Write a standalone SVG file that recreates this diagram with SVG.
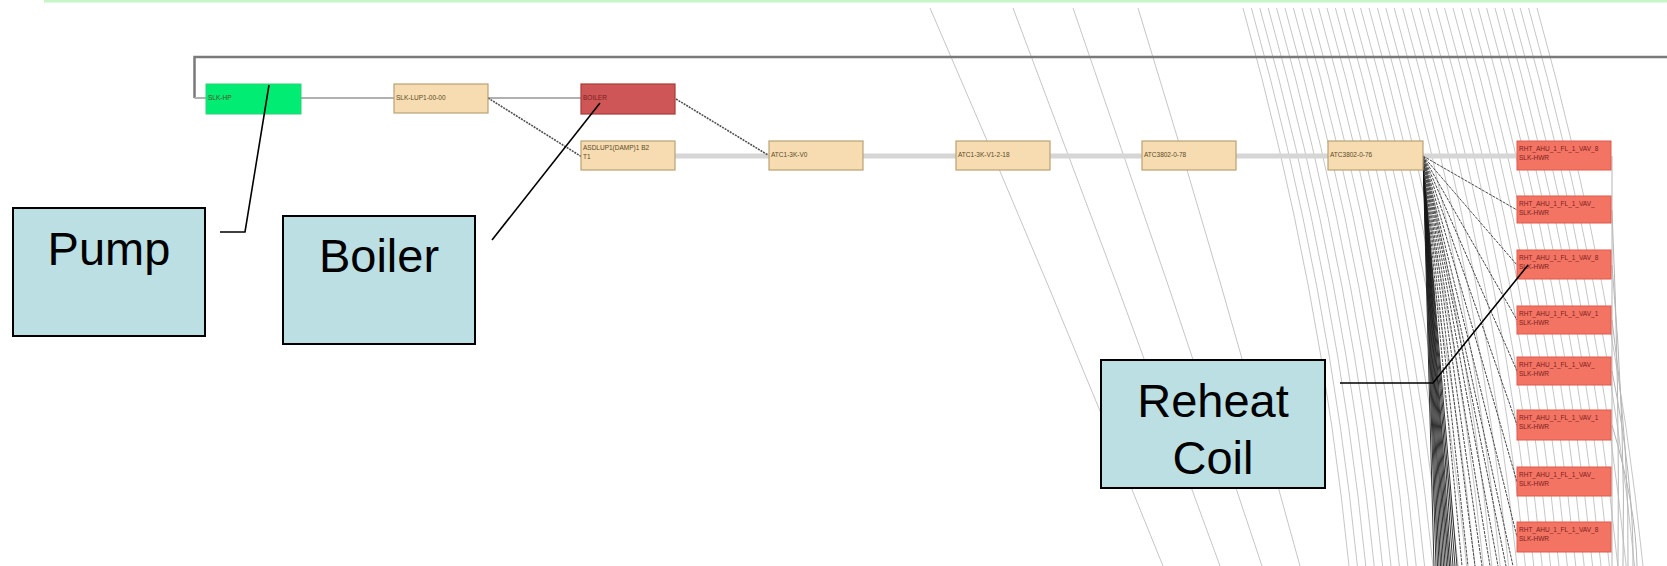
<svg xmlns="http://www.w3.org/2000/svg" width="1667" height="566" viewBox="0 0 1667 566">
<style>
.bg{fill:#ffffff}
.radial{fill:none;stroke:#c6c6c6;stroke-width:1}
.frame{fill:none;stroke:#7a7a7a;stroke-width:2.5}
.row1{fill:none;stroke:#b0b0b0;stroke-width:2}
.row2{fill:none;stroke:#d6d6d6;stroke-width:5}
.dash{fill:none;stroke:#505050;stroke-width:1.6;stroke-dasharray:2 1}
.bundle{fill:none;stroke:#1a1a1a;stroke-width:0.9}
.fan{fill:none;stroke:#4a4a4a;stroke-width:1;stroke-dasharray:3 1}
.right{fill:none;stroke:#b5b5b5;stroke-width:1}
.green{fill:#00ec72;stroke:#2fcf78;stroke-width:1}
.tan{fill:#f6dcb0;stroke:#b9a276;stroke-width:1.2}
.boiler{fill:#cf5656;stroke:#a83a3a;stroke-width:1.2}
.coil{fill:#f47464;stroke:#e05a4c;stroke-width:1}
.tiny{font-family:"Liberation Sans",Arial,sans-serif;font-size:6.5px;fill:#5a4a2a}
.tinyr{font-family:"Liberation Sans",Arial,sans-serif;font-size:6.5px;fill:#7a1e1e}
.callout{fill:#bbdfe3;stroke:#000;stroke-width:2}
.ctext{font-family:"Liberation Sans",Arial,sans-serif;font-size:47px;fill:#000;text-anchor:middle}
.lead{fill:none;stroke:#000;stroke-width:1.6}
</style>
<rect class="bg" x="0" y="0" width="1667" height="566"/>
<rect x="44" y="0" width="1623" height="2.5" fill="#c6f5c6"/>

<g id="connectors">
  <path class="radial" d="M930 8q121 279 233 558M1013 8q106 279 207 558M1073 8q97 279 189 558M1138 8q86 279 162 558"/>
  <path class="radial" d="M1243 8q78 279 106 558M1251.4 8q78 279 106 558M1259.8 8q78 279 106 558M1268.2 8q78 279 106 558M1276.6 8q78 279 106 558M1285 8q78 279 106 558M1293.4 8q78 279 106 558M1301.8 8q78 279 106 558M1310.2 8q78 279 106 558M1318.6 8q78 279 106 558M1327 8q78 279 106 558M1335.4 8q78 279 106 558M1343.8 8q78 279 106 558M1352.2 8q78 279 106 558M1360.6 8q78 279 106 558M1369 8q78 279 106 558M1377.4 8q78 279 106 558M1385.8 8q78 279 106 558M1394.2 8q78 279 106 558M1402.6 8q78 279 106 558M1411 8q78 279 106 558M1419.4 8q78 279 106 558M1427.8 8q78 279 106 558M1436.2 8q78 279 106 558M1444.6 8q78 279 106 558M1453 8q78 279 106 558M1461.4 8q78 279 106 558M1469.8 8q78 279 106 558M1478.2 8q78 279 106 558M1486.6 8q78 279 106 558M1495 8q78 279 106 558M1503.4 8q78 279 106 558M1511.8 8q78 279 106 558M1520.2 8q78 279 106 558M1528.6 8q78 279 106 558M1537 8q78 279 106 558"/>
  <path class="frame" d="M194.5 98V57H1667"/>
  <path class="row1" d="M194.5 98H581"/>
  <path class="row2" d="M675 156H1517"/>
  <path class="dash" d="M488 98L582 157"/>
  <path class="dash" d="M676 99L768 155"/>
  <path class="bundle" d="M1423 156L1434 566M1423 156L1436 566M1423 156L1437.5 566M1423 156L1439 566M1423 156L1440.5 566M1423 156L1442 566M1423 156L1443.5 566M1423 156L1445 566M1423 156L1446.5 566M1423 156L1448 566M1423 156L1449.5 566M1423 156L1451 566M1423 156L1453 566M1423 156L1455 566M1423 156L1457 566"/>
  <path class="fan" d="M1423 156L1462 566M1423 156L1468 566M1423 156L1475 566M1423 156L1482 566M1423 156L1490 566M1423 156L1498 566M1423 156L1506 566M1423 156L1513 566"/>
  <path class="fan" d="M1423 156L1517 210M1423 156L1517 265M1423 156L1517 320M1423 156L1517 371M1423 156L1517 425M1423 156L1517 482M1423 156L1517 537"/>
  <path class="right" d="M1612 156V566M1612 210q8 180 6 356M1612 265q14 160 11 301M1612 320q18 130 16 246M1612 371q22 110 21 195M1612 425q24 80 25 141"/>
</g>

<g id="node-pump-unit"><rect class="green" x="206" y="84" width="95" height="30"/><text class="tiny" x="208" y="100" fill="#0a5a2a">SLK-HP</text></g>
<g id="node-tan1"><rect class="tan" x="394" y="84" width="94" height="29"/><text class="tiny" x="396" y="100">SLK-LUP1-00-00</text></g>
<g id="node-boiler-unit"><rect class="boiler" x="581" y="84" width="94" height="30"/><text class="tinyr" x="583" y="100">BOILER</text></g>
<g id="node-tan2"><rect class="tan" x="581" y="141" width="94" height="29"/><text class="tiny" x="583" y="150">ASDLUP1(DAMP)1 B2</text><text class="tiny" x="583" y="159">T1</text></g>
<g id="node-tan3"><rect class="tan" x="769" y="141" width="94" height="29"/><text class="tiny" x="771" y="157">ATC1-3K-V0</text></g>
<g id="node-tan4"><rect class="tan" x="956" y="141" width="94" height="29"/><text class="tiny" x="958" y="157">ATC1-3K-V1-2-18</text></g>
<g id="node-tan5"><rect class="tan" x="1142" y="141" width="94" height="29"/><text class="tiny" x="1144" y="157">ATC3802-0-78</text></g>
<g id="node-tan6"><rect class="tan" x="1328" y="141" width="95" height="29"/><text class="tiny" x="1330" y="157">ATC3802-0-76</text></g>

<g id="node-coil1"><rect class="coil" x="1517" y="141" width="94" height="29"/><text class="tinyr" x="1519" y="151">RHT_AHU_1_FL_1_VAV_8</text><text class="tinyr" x="1519" y="160">SLK-HWR</text></g>
<g id="node-coil2"><rect class="coil" x="1517" y="196" width="94" height="27"/><text class="tinyr" x="1519" y="206">RHT_AHU_1_FL_1_VAV_</text><text class="tinyr" x="1519" y="215">SLK-HWR</text></g>
<g id="node-coil3"><rect class="coil" x="1517" y="250" width="94" height="29"/><text class="tinyr" x="1519" y="260">RHT_AHU_1_FL_1_VAV_8</text><text class="tinyr" x="1519" y="269">SLK-HWR</text></g>
<g id="node-coil4"><rect class="coil" x="1517" y="306" width="94" height="28"/><text class="tinyr" x="1519" y="316">RHT_AHU_1_FL_1_VAV_1</text><text class="tinyr" x="1519" y="325">SLK-HWR</text></g>
<g id="node-coil5"><rect class="coil" x="1517" y="357" width="94" height="28"/><text class="tinyr" x="1519" y="367">RHT_AHU_1_FL_1_VAV_</text><text class="tinyr" x="1519" y="376">SLK-HWR</text></g>
<g id="node-coil6"><rect class="coil" x="1517" y="410" width="94" height="30"/><text class="tinyr" x="1519" y="420">RHT_AHU_1_FL_1_VAV_1</text><text class="tinyr" x="1519" y="429">SLK-HWR</text></g>
<g id="node-coil7"><rect class="coil" x="1517" y="467" width="94" height="29"/><text class="tinyr" x="1519" y="477">RHT_AHU_1_FL_1_VAV_</text><text class="tinyr" x="1519" y="486">SLK-HWR</text></g>
<g id="node-coil8"><rect class="coil" x="1517" y="522" width="94" height="30"/><text class="tinyr" x="1519" y="532">RHT_AHU_1_FL_1_VAV_8</text><text class="tinyr" x="1519" y="541">SLK-HWR</text></g>

<g id="callout-pump">
  <rect class="callout" x="13" y="208" width="192" height="128"/>
  <text class="ctext" x="109" y="265">Pump</text>
  <path class="lead" d="M220 232H245L269 85"/>
</g>
<g id="callout-boiler">
  <rect class="callout" x="283" y="216" width="192" height="128"/>
  <text class="ctext" x="379" y="272">Boiler</text>
  <path class="lead" d="M492 240L600 103"/>
</g>
<g id="callout-reheat">
  <rect class="callout" x="1101" y="360" width="224" height="128"/>
  <text class="ctext" x="1213" y="417">Reheat</text>
  <text class="ctext" x="1213" y="474">Coil</text>
  <path class="lead" d="M1340 383H1433L1528 265"/>
</g>
</svg>
